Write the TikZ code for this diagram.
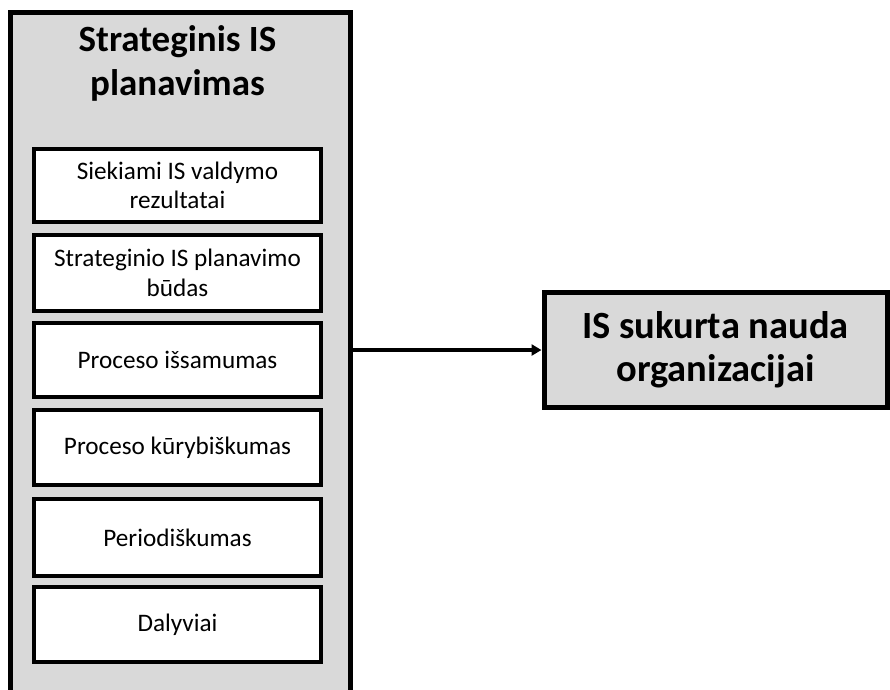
\documentclass[tikz,border=0pt]{standalone}
\usepackage{fontspec}
\setmainfont{Carlito}
\usetikzlibrary{arrows.meta}
\definecolor{panelgray}{HTML}{D9D9D9}
\tikzset{
  panel/.style={draw=black, line width=5pt, fill=panelgray, inner sep=0pt},
  itembox/.style={draw=black, line width=4.5pt, fill=white, inner sep=0pt,
    minimum width=287pt, align=center,
    font=\fontsize{25.2}{29.5}\selectfont},
  bigtext/.style={align=center, inner sep=0pt,
    font=\bfseries\fontsize{37}{44}\selectfont},
  link/.style={line width=3.5pt, -{Triangle[length=10pt,width=11pt]}}
}
\begin{document}
\begin{tikzpicture}[x=1pt,y=1pt]
\useasboundingbox (0,0) rectangle (890,-689);
% left column panel (runs past the lower edge)
\node[panel, minimum width=340pt, minimum height=720pt, anchor=north west]
  (outer) at (7.5,-9.5) {};
\node[bigtext] (title) at (177.5,-63) {Strateginis IS\\planavimas};
% item boxes: centre x, centre y, height
\node[itembox, minimum height=73pt] (i1) at (177.5,-185.5) {Siekiami IS valdymo\\rezultatai};
\node[itembox, minimum height=76pt] (i2) at (177.5,-273) {Strateginio IS planavimo\\būdas};
\node[itembox, minimum height=74pt] (i3) at (177.5,-360) {Proceso išsamumas};
\node[itembox, minimum height=75pt] (i4) at (177.5,-447.5) {Proceso kūrybiškumas};
\node[itembox, minimum height=77pt] (i5) at (177.5,-537.5) {Periodiškumas};
\node[itembox, minimum height=75pt] (i6) at (177.5,-624.5) {Dalyviai};
% result box
\node[panel, minimum width=343pt, minimum height=115.5pt, align=center,
  font=\bfseries\fontsize{38.5}{43}\selectfont] (res) at (715.5,-350) {IS sukurta nauda\\organizacijai};
\draw[link] (outer.east |- res.west) -- (res.west);
\end{tikzpicture}
\end{document}
